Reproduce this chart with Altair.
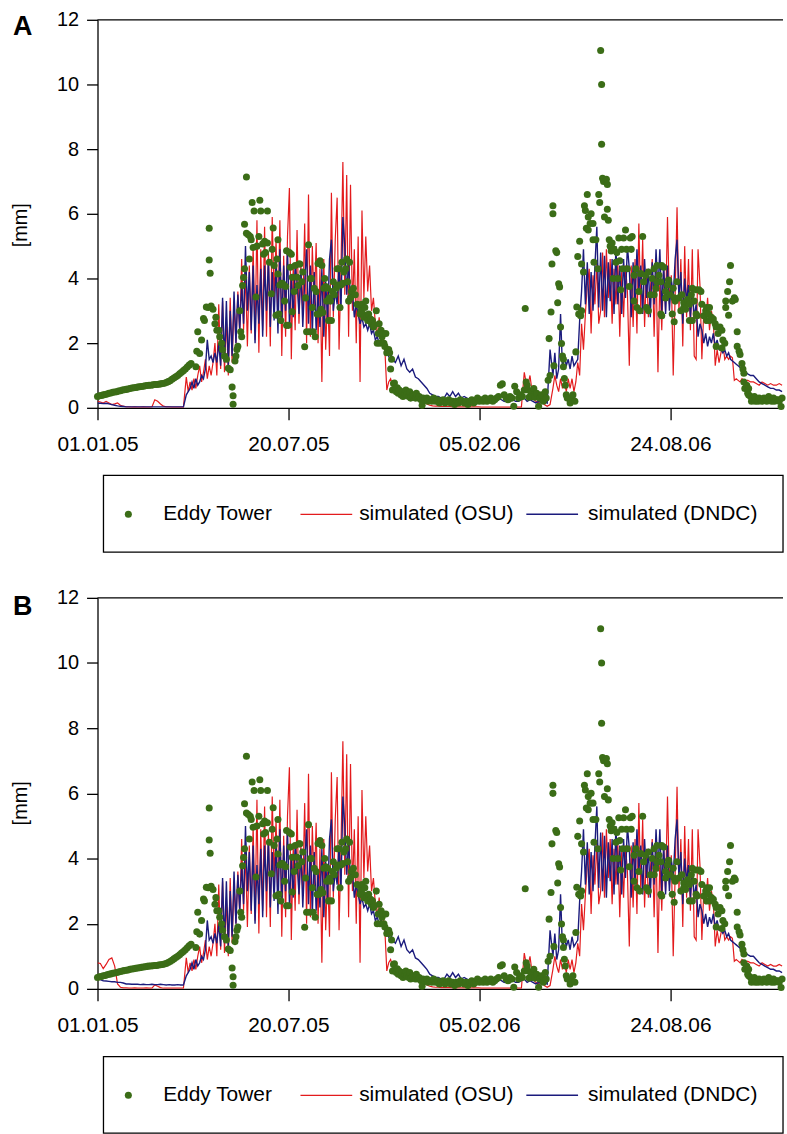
import altair as alt
import pandas as pd

START = pd.Timestamp("2005-01-01")
SERIES = ["Eddy Tower", "simulated (OSU)", "simulated (DNDC)"]
GREEN, RED, NAVY = "#3b6d17", "#e31b1d", "#1b1b7d"
FONT = "Liberation Sans"
TICK_DATES = ["2005-01-01", "2005-07-20", "2006-02-05", "2006-08-24"]
X_END = "2006-12-20"
Y_TICKS = [0, 2, 4, 6, 8, 10, 12]

# days (since 01.01.05) of the simulated values: every 3 days in winter, every 2 in the growing seasons
sim_days = (list(range(0, 91, 3)) + list(range(93, 310, 2)) + list(range(312, 475, 3))
            + list(range(477, 682, 2)) + list(range(684, 718, 3)))

osu_a = (
    # days 0..90
    [0.2, 0.18, 0.15, 0.2, 0.15, 0.1, 0.12, 0.15, 0.08, 0.05]
    + [0.03, 0.03, 0.02, 0.03, 0.02, 0.02, 0.03, 0.02, 0.02, 0.03]
    + [0.25, 0.2, 0.12, 0.05, 0.03, 0.03, 0.02, 0.02, 0.02, 0.02, 0.02]
    # days 93..309 (2-day)
    + [0.95, 0.5, 0.8, 0.55, 0.9, 0.6, 1.0, 1.3, 0.8, 1.1]
    + [1.5, 0.9, 1.3, 1.0, 1.4, 2.0, 1.0, 3.2, 1.2, 3.3]
    + [1.1, 2.8, 1.0, 3.4, 1.4, 3.2, 2.0, 3.6, 2.3, 4.6]
    + [2.4, 4.2, 1.9, 4.4, 2.3, 5.0, 2.1, 5.8, 1.7, 4.9]
    + [2.4, 5.6, 2.2, 4.8, 1.9, 5.9, 3.3, 5.2, 2.6, 5.8]
    + [1.6, 4.7, 2.2, 5.3, 6.8, 1.5, 4.4, 2.4, 5.5, 2.6]
    + [4.4, 3.0, 5.7, 2.0, 6.6, 2.2, 5.0, 3.1, 5.1, 2.0]
    + [4.3, 0.8, 4.6, 1.8, 3.6, 1.6, 6.65, 2.8, 5.2, 6.5]
    + [1.8, 4.3, 7.6, 3.5, 7.2, 2.2, 6.9, 3.0, 4.9, 2.0]
    + [5.3, 0.8, 6.1, 3.4, 5.3, 3.6, 4.4, 3.0, 3.4, 2.6]
    + [2.2, 2.8, 2.0, 2.3, 1.8, 0.55, 0.8, 0.9, 0.7]
    # days 312..474 (3-day)
    + [0.45, 0.42, 0.4, 0.38, 0.35, 0.33, 0.32, 0.3, 0.28, 0.25]
    + [0.2, 0.12, 0.08, 0.06, 0.05, 0.05, 0.04, 0.04, 0.04, 0.04]
    + [0.03, 0.03, 0.03, 0.03, 0.03, 0.03, 0.03, 0.03, 0.03, 0.03]
    + [0.02, 0.02, 0.02, 0.02, 0.02, 0.02, 0.02, 0.02, 0.02, 0.02, 0.02, 0.02, 0.02, 0.02, 0.02]
    + [1.1, 0.6, 1.0, 0.3, 0.2, 0.15, 0.3, 0.1, 0.05, 0.1]
    # days 477..681 (2-day)
    + [0.6, 1.0, 0.7, 0.5, 0.9, 0.6, 0.8, 0.5, 0.9, 0.6]
    + [0.9, 0.5, 0.8, 1.4, 1.0, 2.6, 1.8, 2.9, 3.8, 4.3]
    + [2.3, 4.1, 3.2, 4.5, 2.6, 3.0, 4.8, 2.8, 4.9, 3.4]
    + [4.6, 2.6, 4.3, 3.2, 4.5, 2.2, 4.2, 2.8, 4.4, 3.6]
    + [1.3, 4.4, 2.5, 4.6, 2.3, 5.7, 3.0, 5.2, 2.5, 4.3]
    + [2.8, 3.6, 4.6, 2.2, 4.5, 1.1, 4.0, 2.4, 4.4, 3.0]
    + [5.9, 3.2, 4.1, 1.0, 3.5, 6.2, 3.0, 4.6, 1.9, 5.0]
    + [2.8, 4.6, 2.4, 4.9, 1.6, 1.5, 4.9, 3.8, 1.5, 3.0]
    + [2.6, 3.4, 2.4, 3.0, 2.7, 1.3, 1.8, 1.4, 1.7, 2.0]
    + [1.5, 1.6, 1.5, 1.6, 1.55, 0.85, 0.9, 0.85, 0.8, 0.9]
    + [0.85, 0.8, 0.85]
    # days 684..717 (3-day)
    + [0.8, 0.8, 0.75, 0.7, 0.8, 0.75, 0.7, 0.75, 0.7, 0.7, 0.75, 0.7]
)

dndc_a = (
    # days 0..90
    [0.14, 0.14, 0.13, 0.14, 0.12, 0.1, 0.08, 0.06, 0.05, 0.04]
    + [0.03, 0.03, 0.03, 0.03, 0.03, 0.03, 0.03, 0.03, 0.03, 0.03]
    + [0.03, 0.03, 0.03, 0.03, 0.03, 0.03, 0.03, 0.03, 0.03, 0.03, 0.03]
    # days 93..309 (2-day)
    + [0.4, 0.5, 0.6, 0.8, 0.6, 0.9, 0.7, 0.8, 1.0, 0.9]
    + [1.2, 2.1, 1.5, 1.6, 1.4, 1.7, 1.4, 2.0, 1.3, 3.4]
    + [1.4, 3.3, 1.3, 3.0, 1.6, 3.6, 2.0, 3.5, 2.4, 3.8]
    + [2.6, 5.0, 3.0, 4.2, 2.4, 4.4, 2.0, 3.8, 2.6, 4.3]
    + [2.2, 4.4, 3.0, 4.6, 2.5, 4.2, 2.7, 4.5, 2.3, 4.9]
    + [2.6, 4.4, 3.0, 4.9, 2.6, 4.0, 2.8, 4.4, 3.9, 2.9]
    + [4.3, 2.5, 3.9, 4.9, 2.6, 4.4, 2.3, 4.2, 2.4, 3.6]
    + [2.5, 4.3, 2.2, 3.9, 2.7, 4.6, 5.2, 3.0, 3.6, 3.2]
    + [4.4, 3.0, 5.9, 5.0, 3.5, 4.5, 3.4, 3.6, 2.8, 3.2]
    + [2.9, 2.6, 2.8, 2.5, 2.6, 2.4, 2.6, 2.3, 2.4, 2.1]
    + [2.2, 2.0, 2.1, 1.9, 1.8, 1.9, 1.6, 1.7, 1.5]
    # days 312..474 (3-day)
    + [1.4, 1.6, 1.3, 1.5, 1.2, 1.1, 1.2, 0.95, 0.9, 0.8]
    + [0.7, 0.6, 0.45, 0.4, 0.35, 0.35, 0.3, 0.3, 0.45, 0.35]
    + [0.5, 0.35, 0.45, 0.3, 0.35, 0.3, 0.25, 0.3, 0.25, 0.25]
    + [0.25, 0.3, 0.25, 0.3, 0.25, 0.25, 0.3, 0.25, 0.2, 0.25, 0.2, 0.25, 0.2, 0.2, 0.25]
    + [0.3, 0.2, 0.25, 0.2, 0.15, 0.2, 0.15, 0.2, 0.15, 1.8]
    # days 477..681 (2-day)
    + [1.0, 1.7, 0.9, 1.2, 2.9, 1.2, 1.6, 1.3, 1.5, 1.2]
    + [1.6, 1.3, 1.4, 1.5, 2.7, 3.6, 4.9, 3.2, 4.5, 2.9]
    + [4.2, 3.0, 4.4, 5.6, 3.1, 4.8, 3.0, 4.7, 2.8, 4.5]
    + [3.3, 4.6, 2.9, 5.0, 3.2, 4.4, 2.9, 4.6, 3.4, 5.0]
    + [4.3, 2.8, 4.5, 3.2, 4.9, 3.6, 4.4, 2.9, 4.6, 3.4]
    + [4.3, 2.8, 4.5, 3.2, 4.9, 3.6, 4.9, 3.0, 4.4, 2.9]
    + [4.4, 3.0, 4.0, 3.4, 4.6, 5.2, 3.4, 4.2, 2.6, 4.0]
    + [3.3, 3.8, 2.8, 3.6, 2.8, 3.2, 2.2, 2.6, 2.4, 2.0]
    + [2.3, 1.9, 2.2, 2.0, 2.3, 1.9, 2.1, 1.8, 1.8, 1.7]
    + [1.8, 1.6, 1.7, 1.5, 1.45, 1.4, 1.35, 1.3, 1.25, 1.2]
    + [1.1, 1.1, 1.05]
    # days 684..717 (3-day)
    + [1.0, 1.0, 0.9, 0.8, 0.75, 0.7, 0.65, 0.6, 0.6, 0.55, 0.55, 0.5]
)

# panel B differs from A only in the first three months (days 0..90)
osu_b_early = [0.8, 0.78, 0.62, 0.75, 0.9, 0.95, 0.7, 0.15, 0.05, 0.03,
               0.03, 0.02, 0.02, 0.03, 0.02, 0.02, 0.02, 0.03, 0.02, 0.02,
               0.12, 0.08, 0.04, 0.02, 0.02, 0.02, 0.02, 0.02, 0.02, 0.02, 0.02]
dndc_b_early = [0.4, 0.28, 0.25, 0.24, 0.23, 0.22, 0.22, 0.2, 0.2, 0.18,
                0.15, 0.15, 0.14, 0.14, 0.14, 0.13, 0.14, 0.13, 0.13, 0.14,
                0.13, 0.13, 0.14, 0.13, 0.12, 0.13, 0.12, 0.12, 0.13, 0.12, 0.12]
osu_b = osu_b_early + osu_a[31:]
dndc_b = dndc_b_early + dndc_a[31:]

# Eddy tower observations: (day since 01.01.05, mm)
eddy_winter05 = [(0, 0.35), (2, 0.37), (4, 0.38), (6, 0.40), (8, 0.41), (10, 0.43), (12, 0.45),
                 (14, 0.46), (16, 0.48), (18, 0.49), (20, 0.50), (22, 0.52), (24, 0.53), (26, 0.55),
                 (28, 0.56), (30, 0.57), (32, 0.58), (34, 0.60), (36, 0.61), (38, 0.62), (40, 0.63),
                 (42, 0.64), (44, 0.65), (46, 0.66), (48, 0.67), (50, 0.68), (52, 0.69), (54, 0.70),
                 (56, 0.70), (58, 0.71), (60, 0.72), (62, 0.72), (64, 0.73), (66, 0.74), (68, 0.75),
                 (70, 0.76), (72, 0.78), (74, 0.81), (76, 0.84), (78, 0.88), (80, 0.92), (82, 0.96),
                 (84, 1.0), (86, 1.05), (88, 1.1), (90, 1.15), (92, 1.2), (94, 1.26), (96, 1.32)]
eddy_spring05 = [(98, 1.37), (103, 1.27), (104, 1.75), (105, 2.35), (107, 1.68), (109, 2.1), (111, 2.76),
                 (112, 2.7), (114, 3.12), (116, 3.1), (117, 5.55), (117, 4.57), (118, 4.16), (119, 3.15),
                 (121, 3.05), (123, 2.6), (124, 2.8), (125, 2.4), (127, 2.4), (128, 2.2), (130, 2.0),
                 (131, 1.8), (133, 1.6), (135, 1.5), (137, 1.22), (139, 1.18), (141, 0.64), (142, 0.37),
                 (142, 0.11), (144, 1.45), (145, 1.6), (146, 1.8), (147, 1.9), (149, 3.0), (150, 2.35),
                 (151, 2.2), (152, 3.78), (153, 4.03), (154, 4.3), (154, 5.68), (156, 7.14), (156, 5.4),
                 (158, 5.35), (159, 4.6), (160, 5.3)]
eddy_summer05 = [(161, 5.2), (162, 6.35), (163, 4.96), (164, 6.09), (166, 3.43), (167, 5.0), (169, 5.3),
                 (170, 6.42), (171, 6.09), (173, 5.07), (174, 4.75), (175, 5.15), (176, 4.8), (178, 5.1),
                 (178, 6.09), (180, 4.5), (182, 3.53), (183, 4.9), (184, 5.56), (185, 4.4), (187, 2.86),
                 (188, 4.6), (189, 5.2), (189, 4.14), (190, 2.9), (191, 3.8), (192, 2.7), (193, 3.85),
                 (194, 3.84), (195, 3.8), (196, 3.3), (197, 3.75), (198, 2.55), (198, 4.86), (200, 2.55),
                 (201, 4.8), (202, 4.35), (203, 4.75), (204, 4.04), (204, 2.97), (206, 3.6), (207, 4.4),
                 (209, 4.04), (210, 3.78), (211, 4.45), (212, 4.45), (214, 3.9), (215, 4.2), (217, 1.89),
                 (218, 3.4), (219, 2.35), (221, 5.04), (222, 2.35), (223, 4.0), (224, 4.0), (225, 3.1),
                 (226, 2.35), (227, 3.7), (228, 2.2), (229, 3.6), (230, 2.9), (231, 4.46), (232, 2.9),
                 (233, 4.55), (234, 3.05), (235, 4.4), (236, 2.95), (237, 3.7), (238, 4.0), (239, 3.75),
                 (240, 3.3), (241, 3.7), (242, 2.7), (243, 3.4), (244, 3.3), (245, 2.7), (246, 3.6),
                 (247, 3.9), (248, 3.5), (250, 3.7), (251, 4.3), (252, 3.8), (253, 4.3), (254, 3.1),
                 (255, 3.8), (256, 4.5), (257, 3.85), (258, 4.2), (260, 4.3), (261, 4.6), (262, 3.9),
                 (263, 3.3), (264, 4.5), (265, 3.4), (266, 3.6), (268, 3.7), (270, 3.5), (272, 3.2),
                 (274, 3.17), (275, 2.9), (276, 3.0), (277, 3.2), (278, 2.9), (279, 2.8), (280, 3.1),
                 (281, 3.3), (282, 2.8), (283, 2.7), (284, 2.9), (286, 2.75), (287, 2.6), (288, 2.7),
                 (289, 2.5), (290, 2.55), (292, 3.0), (293, 2.0), (294, 2.3), (295, 2.6), (296, 2.0),
                 (297, 2.4), (298, 2.2), (299, 2.3), (300, 2.0), (301, 1.9), (302, 2.3), (303, 1.7),
                 (305, 1.8), (306, 1.7), (307, 1.2), (308, 1.5), (309, 0.55), (310, 0.75), (311, 0.77),
                 (312, 0.6)]
eddy_winter06 = [(313, 0.5), (314, 0.62), (315, 0.45), (316, 0.55), (318, 0.4), (319, 0.5), (320, 0.35),
                 (322, 0.45), (323, 0.55), (324, 0.4), (326, 0.35), (327, 0.5), (328, 0.3), (330, 0.4),
                 (331, 0.35), (333, 0.3), (334, 0.45), (336, 0.3), (337, 0.35), (339, 0.25), (340, 0.08),
                 (341, 0.3), (343, 0.25), (345, 0.3), (346, 0.2), (348, 0.25), (350, 0.2), (352, 0.3),
                 (354, 0.2), (356, 0.25), (358, 0.15), (360, 0.2), (362, 0.25), (364, 0.15), (366, 0.2),
                 (368, 0.25), (370, 0.15), (372, 0.2), (374, 0.1), (376, 0.2), (378, 0.15), (380, 0.25),
                 (382, 0.2), (384, 0.15), (386, 0.2), (388, 0.1), (390, 0.2), (392, 0.25), (394, 0.15),
                 (396, 0.2), (398, 0.3), (400, 0.2), (402, 0.25), (404, 0.2), (406, 0.3), (408, 0.2),
                 (410, 0.25), (412, 0.3), (414, 0.2), (416, 0.25), (418, 0.3), (420, 0.35), (422, 0.7),
                 (424, 0.74), (426, 0.4), (428, 0.3), (430, 0.25), (432, 0.35), (434, 0.3), (436, 0.05),
                 (437, 0.67), (439, 0.5), (441, 0.3), (443, 0.4), (445, 0.35), (447, 0.55), (448, 3.07),
                 (449, 0.8), (450, 0.7), (451, 0.55), (452, 0.33), (454, 0.5), (455, 0.35), (457, 0.6),
                 (458, 0.33), (460, 0.45), (462, 0.05), (463, 0.3), (465, 0.4), (467, 0.2), (469, 0.5),
                 (470, 0.3), (472, 0.85)]
eddy_spring06 = [(473, 2.14), (474, 1.0), (475, 2.96), (476, 4.45), (477, 6.25), (477, 6.0), (478, 1.3),
                 (480, 4.86), (481, 4.8), (482, 3.25), (483, 3.84), (484, 3.74), (485, 2.5), (486, 1.99),
                 (487, 1.6), (488, 1.5), (488, 1.27), (489, 0.91), (490, 0.7), (491, 0.4), (492, 0.3),
                 (494, 0.3), (495, 0.15), (496, 0.25), (498, 0.4), (500, 0.2), (501, 1.73), (502, 3.12),
                 (503, 4.68), (504, 2.9), (505, 5.15), (506, 2.85), (507, 4.45), (507, 3.0), (509, 4.2),
                 (510, 6.25), (511, 6.1), (512, 5.55)]
eddy_summer06 = [(513, 6.6), (514, 5.9), (514, 5.5), (516, 5.7), (517, 6.0), (519, 5.7), (519, 5.2),
                 (520, 4.5), (522, 5.2), (524, 4.3), (525, 6.6), (526, 6.35), (527, 11.05), (528, 10.0),
                 (528, 8.15), (529, 7.1), (530, 7.0), (531, 5.9), (533, 7.07), (534, 6.91), (534, 6.14),
                 (535, 5.8), (536, 5.2), (537, 5.0), (538, 4.85), (539, 5.1), (540, 4.0), (541, 4.9),
                 (543, 4.5), (544, 4.8), (545, 4.0), (546, 5.25), (547, 4.55), (548, 3.65), (549, 4.9),
                 (550, 4.3), (551, 5.25), (553, 5.5), (554, 4.9), (555, 4.3), (557, 3.75), (558, 5.25),
                 (559, 4.9), (560, 5.3), (562, 4.1), (562, 3.3), (564, 4.3), (565, 3.1), (567, 3.6),
                 (568, 3.0), (569, 4.15), (571, 5.3), (572, 3.9), (574, 4.1), (575, 3.1), (577, 4.2),
                 (577, 3.0), (579, 3.5), (581, 4.0), (583, 4.3), (583, 3.5), (585, 3.7), (586, 4.4),
                 (586, 3.9), (588, 4.1), (590, 3.9), (590, 2.9), (591, 4.4), (591, 2.85), (593, 4.35),
                 (595, 3.6), (595, 3.4), (597, 3.8), (598, 3.95), (600, 3.5), (602, 2.9), (603, 3.7),
                 (604, 2.66), (604, 3.4), (605, 3.3), (607, 3.9), (609, 3.4), (611, 3.0), (612, 3.5),
                 (614, 3.25), (614, 3.1), (616, 3.05), (618, 3.35), (620, 3.2), (620, 2.7), (622, 3.5),
                 (623, 3.7), (623, 2.7), (625, 3.3), (627, 3.65), (627, 2.9), (628, 2.85), (630, 3.65),
                 (632, 3.6), (633, 3.2), (635, 2.85), (637, 3.0), (638, 2.7), (638, 3.1), (640, 2.9)]
eddy_autumn06 = [(641, 2.7), (641, 3.1), (643, 2.8), (645, 2.75), (647, 2.6), (648, 2.5), (648, 1.9),
                 (650, 2.3), (652, 2.5), (654, 2.4), (654, 1.85), (655, 2.1), (657, 2.0), (658, 3.3),
                 (658, 3.1), (660, 3.6), (661, 2.86), (662, 3.9), (663, 4.4), (665, 3.3), (667, 3.4),
                 (668, 3.35), (670, 2.35), (670, 1.9), (672, 1.75), (673, 1.65), (675, 1.37), (676, 1.2),
                 (677, 1.07), (677, 0.8), (678, 0.6), (680, 0.7), (681, 0.45), (682, 0.6), (682, 0.4),
                 (684, 0.35), (685, 0.2), (686, 0.3), (688, 0.35), (689, 0.2), (690, 0.25), (692, 0.2),
                 (693, 0.3), (695, 0.25), (696, 0.2), (698, 0.3), (700, 0.25), (701, 0.2), (703, 0.35),
                 (704, 0.25), (706, 0.2), (708, 0.3), (709, 0.2), (711, 0.25), (713, 0.25), (714, 0.2),
                 (716, 0.04), (717, 0.3)]

eddy_obs = (eddy_winter05 + eddy_spring05 + eddy_summer05 + eddy_winter06
            + eddy_spring06 + eddy_summer06 + eddy_autumn06)


def to_dates(days):
    return START + pd.to_timedelta(list(days), unit="D")


def dt(s):
    t = pd.Timestamp(s)
    return alt.DateTime(year=t.year, month=t.month, date=t.day)


def x_enc():
    return alt.X(
        "date:T",
        scale=alt.Scale(domain=[dt(TICK_DATES[0]), dt(X_END)]),
        axis=alt.Axis(values=[dt(s) for s in TICK_DATES], format="%d.%m.%y", title=None,
                      labelFontSize=21, labelFont=FONT, labelColor="black", labelFlush=False,
                      labelOverlap=False, labelPadding=14, tickSize=12, tickColor="black",
                      tickWidth=1.3, domainColor="black", domainWidth=1.3, grid=False),
    )


def y_enc(field):
    return alt.Y(
        f"{field}:Q",
        scale=alt.Scale(domain=[0, 12], nice=False),
        axis=alt.Axis(values=Y_TICKS, title="[mm]", titleFont=FONT, titleFontSize=20,
                      titleFontWeight="normal", titleColor="black", titleX=-67, titleY=206,
                      labelFontSize=20, labelFont=FONT, labelColor="black", labelFlush=False,
                      labelPadding=8, tickSize=11, tickColor="black", tickWidth=1.3,
                      domainColor="black", domainWidth=1.3, grid=False),
    )


def panel(osu, dndc, letter, height, tag_y):
    sim = pd.DataFrame({"date": to_dates(sim_days), "osu": osu, "dndc": dndc})
    eddy = pd.DataFrame(eddy_obs, columns=["day", "mm"])
    eddy["date"] = to_dates(eddy["day"])
    one = pd.DataFrame({"k": [0]})
    red = alt.Chart(sim).mark_line(color=RED, strokeWidth=1.2, clip=True).encode(
        x=x_enc(), y=y_enc("osu"))
    navy = alt.Chart(sim).mark_line(color=NAVY, strokeWidth=1.4, clip=True).encode(
        x=x_enc(), y=y_enc("dndc"))
    pts = alt.Chart(eddy).mark_circle(size=50, color=GREEN, opacity=1).encode(
        x=x_enc(), y=y_enc("mm"))
    top = alt.Chart(one).mark_rule(color="black", strokeWidth=1.3).encode(
        x=alt.value(0), x2=alt.value(689), y=alt.value(0))
    tag = alt.Chart(one).mark_text(text=letter, align="left", baseline="alphabetic", fontSize=27,
                                   fontWeight="bold", font=FONT, color="black").encode(
        x=alt.value(-85), y=alt.value(tag_y))
    return alt.layer(red, navy, pts, top, tag).properties(width=689, height=height)


def legend():
    one = pd.DataFrame({"k": [0]})
    box = alt.Chart(one).mark_rect(fill="white", stroke="black", strokeWidth=1.3).encode(
        x=alt.value(6), x2=alt.value(689), y=alt.value(0), y2=alt.value(77))
    dot = alt.Chart(one).mark_circle(size=50, color=GREEN, opacity=1).encode(
        x=alt.value(31), y=alt.value(39))
    red = alt.Chart(one).mark_rule(color=RED, strokeWidth=1.3).encode(
        x=alt.value(204), x2=alt.value(256), y=alt.value(39))
    navy = alt.Chart(one).mark_rule(color=NAVY, strokeWidth=1.5).encode(
        x=alt.value(431), x2=alt.value(483), y=alt.value(39))
    texts = [
        alt.Chart(one).mark_text(text=lab, align="left", baseline="middle", fontSize=21,
                                 font=FONT, color="black").encode(x=alt.value(xp), y=alt.value(39))
        for lab, xp in zip(SERIES, [66, 263, 493])
    ]
    return alt.layer(box, dot, red, navy, *texts).properties(
        width=689, height=77, view=alt.ViewBackground(stroke="transparent"))


top_block = alt.vconcat(panel(osu_a, dndc_a, "A", 390, 15), legend(), spacing=18)
bottom_block = alt.vconcat(panel(osu_b, dndc_b, "B", 393, 17), legend(), spacing=18)

chart = alt.vconcat(top_block, bottom_block, spacing=33).properties(
    padding={"left": 10, "top": 6, "right": 0, "bottom": 0},
    background="white",
).configure_view(stroke="transparent")

chart.save("out.html", embed_options={"renderer": "svg", "actions": False})
